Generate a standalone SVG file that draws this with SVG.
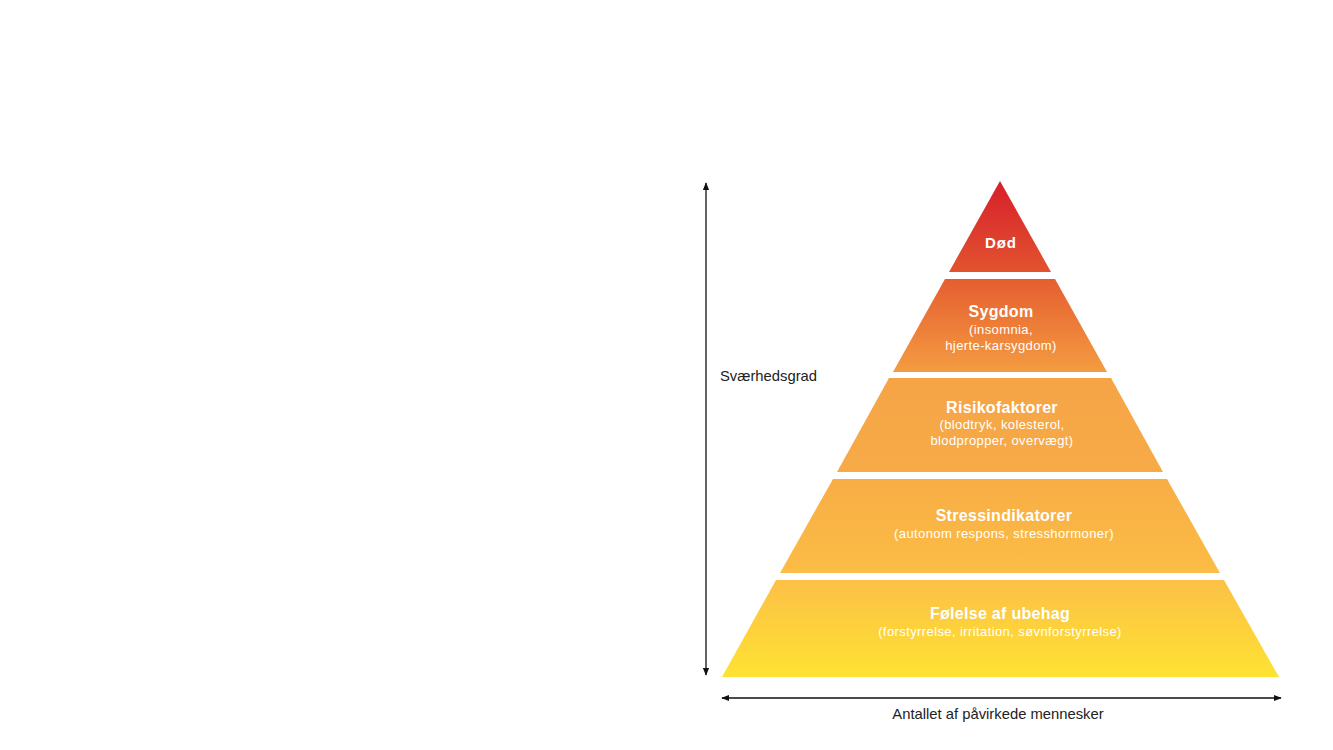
<svg xmlns="http://www.w3.org/2000/svg" width="1333" height="750" viewBox="0 0 1333 750">
<style>
.t{font-family:"Liberation Sans",Arial,sans-serif;fill:#fff;text-anchor:middle}
.h{font-weight:bold;font-size:16px;letter-spacing:0.3px}
.s{font-size:13px;letter-spacing:0.4px}
.ax{font-family:"Liberation Sans",Arial,sans-serif;font-size:14.8px;fill:#222}
.ln{stroke:#111;stroke-width:1.3;fill:none}
</style>
<defs>
<linearGradient id="g" gradientUnits="userSpaceOnUse" x1="0" y1="181" x2="0" y2="677">
<stop offset="0" stop-color="#d61f2b"/>
<stop offset="0.18" stop-color="#e2522f"/>
<stop offset="0.2" stop-color="#e55f30"/>
<stop offset="0.385" stop-color="#f49c41"/>
<stop offset="0.4" stop-color="#f6a446"/>
<stop offset="0.59" stop-color="#f7ab46"/>
<stop offset="0.6" stop-color="#f8ad45"/>
<stop offset="0.79" stop-color="#fbbd45"/>
<stop offset="0.805" stop-color="#fcc046"/>
<stop offset="1" stop-color="#fee332"/>
</linearGradient>
<marker id="ah" viewBox="0 0 10 10" refX="9" refY="5" markerWidth="8" markerHeight="8" orient="auto-start-reverse" markerUnits="userSpaceOnUse">
<path d="M0,1 L10,5 L0,9 Z" fill="#111"/>
</marker>
</defs>
<rect width="1333" height="750" fill="#fff"/>
<g id="connectors">
<line class="ln" x1="706" y1="183" x2="706" y2="675" marker-start="url(#ah)" marker-end="url(#ah)"/>
<line class="ln" x1="722" y1="698" x2="1281" y2="698" marker-start="url(#ah)" marker-end="url(#ah)"/>
</g>
<g id="dod">
<polygon points="1000,181 1051,272 949,272" fill="url(#g)"/>
<text class="t h" x="1001" y="248" style="font-size:15px;letter-spacing:0.9px">Død</text>
</g>
<g id="sygdom">
<polygon points="945,279 1055,279 1107,372 893,372" fill="url(#g)"/>
<text class="t h" x="1001" y="317">Sygdom</text>
<text class="t s" x="1001" y="334">(insomnia,</text>
<text class="t s" x="1001" y="350">hjerte-karsygdom)</text>
</g>
<g id="risiko">
<polygon points="889,378 1111,378 1163,472 837,472" fill="url(#g)"/>
<text class="t h" x="1002" y="413">Risikofaktorer</text>
<text class="t s" x="1002" y="429">(blodtryk, kolesterol,</text>
<text class="t s" x="1002" y="445">blodpropper, overvægt)</text>
</g>
<g id="stress">
<polygon points="833,479 1167,479 1220,573 780,573" fill="url(#g)"/>
<text class="t h" x="1004" y="521">Stressindikatorer</text>
<text class="t s" x="1004" y="538">(autonom respons, stresshormoner)</text>
</g>
<g id="folelse">
<polygon points="776,580 1224,580 1279,677 722,677" fill="url(#g)"/>
<text class="t h" x="1000" y="619">Følelse af ubehag</text>
<text class="t s" x="1000" y="636">(forstyrrelse, irritation, søvnforstyrrelse)</text>
</g>
<text class="ax" x="720" y="381">Sværhedsgrad</text>
<text class="ax" x="998" y="719" text-anchor="middle">Antallet af påvirkede mennesker</text>
</svg>
